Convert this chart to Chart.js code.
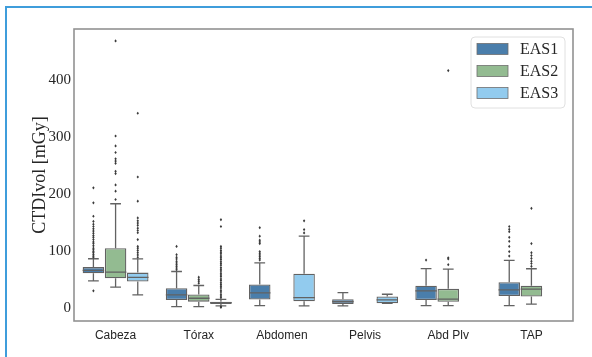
<!DOCTYPE html>
<html>
<head>
<meta charset="utf-8">
<script src="https://cdn.jsdelivr.net/npm/chart.js@4.4.1/dist/chart.umd.min.js"></script>
<style>
  body { margin: 0; background: #fff; }
  #wrap { position: relative; width: 592px; height: 357px; }
  #marco { position: absolute; left: 5px; top: 6px; right: 0; bottom: 0;
           border-left: 2px solid #3f9ddb; border-top: 2px solid #3f9ddb; }
  #grafica { position: absolute; left: 0; top: 0; }
</style>
</head>
<body>
<div id="wrap">
  <div id="marco"></div>
  <canvas id="grafica" width="592" height="357"></canvas>
</div>
<script>
// categorias y series
const categorias = ["Cabeza", "Tórax", "Abdomen", "Pelvis", "Abd Plv", "TAP"];
const series = ["EAS1", "EAS2", "EAS3"];
const colores = ["#4a7eab", "#93bb91", "#92cbee"];
const yTicks = [0, 100, 200, 300, 400];

// EAS1
const eas1Min = [47.6, 2.4, 4, 3.5, 4, 4];
const eas1Q1 = [61, 14, 14.7, 7, 14, 21];
const eas1Med = [65.8, 23, 26.5, 11, 30, 31.7];
const eas1Q3 = [71.7, 34.7, 41, 15.3, 39, 45];
const eas1Max = [86.4, 64, 79, 27, 69, 83.5];
const eas1Atipicos = [
  [30, 89, 91, 94, 97, 99, 102, 105, 109, 113, 116, 120, 124, 127, 131, 135, 139, 143, 147, 152, 161, 184.6, 211],
  [67, 70, 73, 76, 79, 82, 86, 89, 93.5, 108],
  [84, 87, 90, 93, 96, 99, 113, 116, 119, 126, 141],
  [],
  [84],
  [91, 99, 108, 117, 124, 134, 138, 143]
];

// EAS2
const eas2Min = [36.5, 2.4, null, null, 4, 6.5];
const eas2Q1 = [52, 11, null, null, 10.6, 20];
const eas2Med = [63, 17, null, null, 15.3, 33];
const eas2Q3 = [105, 23.5, null, null, 33.5, 39];
const eas2Max = [183, 39.4, null, null, 68, 68.8];
const eas2Atipicos = [
  [190.5, 205, 216, 236, 240, 254, 258, 262, 273, 284.5, 302, 469],
  [43.5, 47, 50, 54],
  [],
  [],
  [76, 86, 88, 417],
  [73, 78, 82, 87, 92, 97, 113, 175]
];

// EAS3
const eas3Min = [23, 3.5, 3.5, 8.2, null, null];
const eas3Q1 = [46.4, 7, 11.8, 8.2, null, null];
const eas3Med = [53.5, 9.4, 18, 14, null, null];
const eas3Q3 = [62, 11, 60, 20, null, null];
const eas3Max = [86, 15, 126, 24, null, null];
const eas3Atipicos = [
  [89, 93, 97, 101, 105, 108, 120, 132, 136, 140, 145, 149, 153, 158, 187.5, 230, 342],
  [1, 2, 18, 21, 24, 28, 31, 35, 38, 41, 44, 48, 51, 55, 58, 61, 65, 68, 71, 75, 78, 81, 85, 88, 91, 95, 98, 101, 105, 108, 143, 155],
  [131.7, 137.6, 153],
  [],
  [],
  []
];

const estadisticas = [
  { min: eas1Min, q1: eas1Q1, med: eas1Med, q3: eas1Q3, max: eas1Max, out: eas1Atipicos },
  { min: eas2Min, q1: eas2Q1, med: eas2Med, q3: eas2Q3, max: eas2Max, out: eas2Atipicos },
  { min: eas3Min, q1: eas3Q1, med: eas3Med, q3: eas3Q3, max: eas3Max, out: eas3Atipicos }
];

const gris = "#626262";
const serif = "'Liberation Serif', 'DejaVu Serif', serif";
const sans = "'Liberation Sans', Arial, sans-serif";

// bigotes, medianas, atipicos, marco y leyenda
const cajasPlugin = {
  id: "cajas",
  afterDatasetsDraw(chart) {
    const ctx = chart.ctx;
    const y = chart.scales.y;
    ctx.save();
    estadisticas.forEach((st, d) => {
      const meta = chart.getDatasetMeta(d);
      meta.data.forEach((bar, i) => {
        if (st.q1[i] == null) return;
        const x = bar.x;
        const half = bar.width / 2;
        const cap = half / 2;
        ctx.strokeStyle = gris;
        ctx.lineWidth = 1.3;
        ctx.beginPath();
        // bigote superior
        ctx.moveTo(x, y.getPixelForValue(st.q3[i]));
        ctx.lineTo(x, y.getPixelForValue(st.max[i]));
        ctx.moveTo(x - cap, y.getPixelForValue(st.max[i]));
        ctx.lineTo(x + cap, y.getPixelForValue(st.max[i]));
        // bigote inferior
        ctx.moveTo(x, y.getPixelForValue(st.q1[i]));
        ctx.lineTo(x, y.getPixelForValue(st.min[i]));
        ctx.moveTo(x - cap, y.getPixelForValue(st.min[i]));
        ctx.lineTo(x + cap, y.getPixelForValue(st.min[i]));
        // mediana
        ctx.moveTo(x - half, y.getPixelForValue(st.med[i]));
        ctx.lineTo(x + half, y.getPixelForValue(st.med[i]));
        ctx.stroke();
        // atipicos
        ctx.fillStyle = "#3a3a3a";
        st.out[i].forEach(v => {
          const py = y.getPixelForValue(v);
          ctx.beginPath();
          ctx.moveTo(x, py - 1.6);
          ctx.lineTo(x + 1.2, py);
          ctx.lineTo(x, py + 1.6);
          ctx.lineTo(x - 1.2, py);
          ctx.closePath();
          ctx.fill();
        });
      });
    });
    ctx.restore();
  },
  afterDraw(chart) {
    const ctx = chart.ctx;
    const a = chart.chartArea;
    ctx.save();
    ctx.strokeStyle = "#929292";
    ctx.lineWidth = 1.6;
    ctx.strokeRect(a.left, a.top, a.right - a.left, a.bottom - a.top);

    // leyenda
    const w = 94, h = 71;
    const lx = a.right - 8 - w, ly = a.top + 8;
    ctx.fillStyle = "#ffffff";
    ctx.strokeStyle = "#e0e0e0";
    ctx.lineWidth = 1;
    ctx.beginPath();
    ctx.roundRect(lx, ly, w, h, 4);
    ctx.fill();
    ctx.stroke();
    ctx.font = "16px " + serif;
    ctx.textBaseline = "middle";
    chart.data.datasets.forEach((ds, k) => {
      const cy = ly + 12 + k * 22;
      ctx.fillStyle = ds.backgroundColor;
      ctx.fillRect(lx + 6, cy - 5.5, 31, 11);
      ctx.strokeStyle = "#6f6f6f";
      ctx.lineWidth = 0.8;
      ctx.strokeRect(lx + 6, cy - 5.5, 31, 11);
      ctx.fillStyle = "#262626";
      ctx.fillText(ds.label, lx + 49, cy + 1);
    });
    ctx.restore();
  }
};

new Chart(document.getElementById("grafica"), {
  type: "bar",
  data: {
    labels: categorias,
    datasets: series.map((nombre, d) => ({
      label: nombre,
      data: estadisticas[d].q1.map((v, i) => v == null ? null : [v, estadisticas[d].q3[i]]),
      backgroundColor: colores[d],
      borderColor: gris,
      borderWidth: 1.3,
      borderSkipped: false,
      categoryPercentage: 0.8,
      barPercentage: 0.97
    }))
  },
  options: {
    responsive: false,
    animation: false,
    layout: { padding: { left: 0, top: 29, right: 19, bottom: 0 } },
    plugins: {
      legend: { display: false },
      tooltip: { enabled: false }
    },
    scales: {
      x: {
        grid: { display: false, drawTicks: false },
        border: { display: false },
        ticks: { color: "#262626", font: { family: sans, size: 12 }, padding: 7 },
        afterFit(scale) { scale.height = 36; }
      },
      y: {
        min: -23,
        max: 490,
        grid: { display: false, drawTicks: false },
        border: { display: false },
        afterBuildTicks(scale) { scale.ticks = yTicks.map(v => ({ value: v })); },
        ticks: { color: "#262626", font: { family: serif, size: 15 }, padding: 3 },
        title: {
          display: true,
          text: "CTDIvol [mGy]",
          color: "#262626",
          font: { family: serif, size: 18 },
          padding: { top: 29, bottom: 0 }
        },
        afterFit(scale) { scale.width = 74; }
      }
    }
  },
  plugins: [cajasPlugin]
});
</script>
</body>
</html>
